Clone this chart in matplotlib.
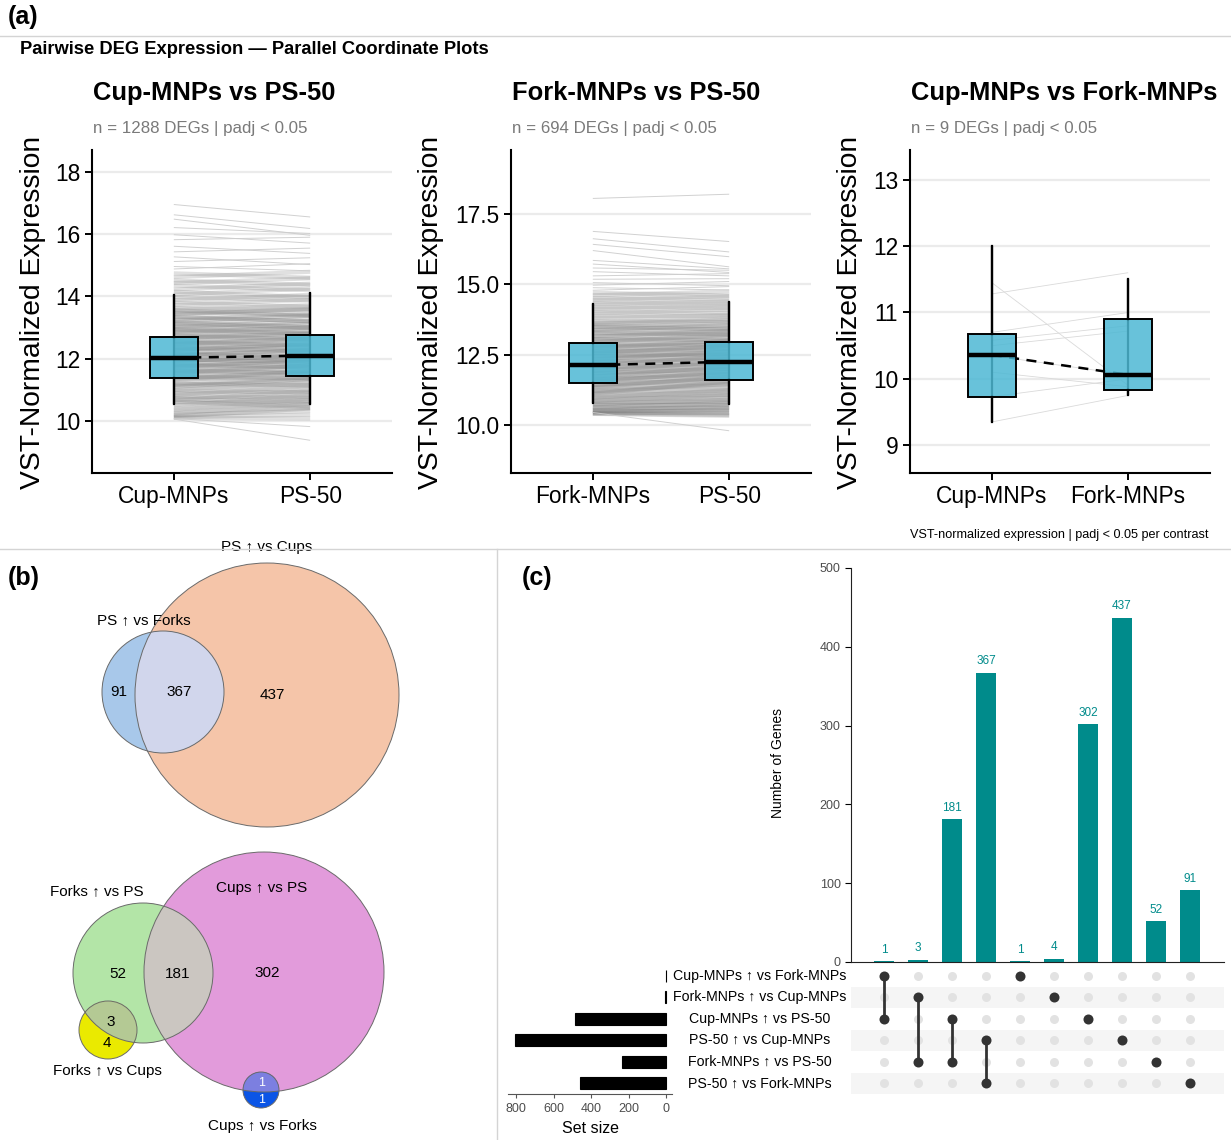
import numpy as np
import matplotlib.pyplot as plt
from matplotlib.patches import Circle
from matplotlib.lines import Line2D
from matplotlib.collections import LineCollection
from matplotlib.colors import to_rgba
from matplotlib.ticker import FormatStrFormatter
from matplotlib.transforms import blended_transform_factory

plt.rcParams['font.family'] = ['Liberation Sans', 'DejaVu Sans']

W, H = 1231, 1140

# ---------------- data : panel (a) ----------------
cup1 = [16.95, 16.62, 16.48, 16.21, 15.98, 15.82, 15.61, 15.43, 15.27, 15.12,
        14.96, 14.88, 14.74, 14.62, 14.51, 14.43, 14.35, 14.22, 14.15, 14.06,
        13.97, 13.88, 13.81, 13.72, 13.64, 13.57, 13.49, 13.41, 13.33, 13.26,
        13.18, 13.11, 13.04, 12.97, 12.9, 12.83, 12.77, 12.7, 12.63, 12.57,
        12.5, 12.44, 12.38, 12.31, 12.25, 12.19, 12.13, 12.07, 12.01, 11.95,
        11.89, 11.83, 11.77, 11.7, 11.64, 11.57, 11.5, 11.44, 11.37, 11.3,
        11.22, 11.15, 11.07, 10.99, 10.91, 10.83, 10.75, 10.66, 10.58, 10.5,
        10.43, 10.36, 10.3, 10.24, 10.19, 10.15, 10.12, 10.1, 10.08, 10.06,
        13.55, 13.45, 13.35, 13.22, 13.14, 13.02, 12.94, 12.86, 12.74, 12.66,
        12.54, 12.47, 12.35, 12.28, 12.16, 12.1, 11.98, 11.92, 11.8, 11.74,
        11.61, 11.54, 11.42, 11.34, 11.19, 11.1, 10.95, 10.8, 10.7, 10.62]
ps1 = [16.55, 16.18, 15.96, 16.02, 15.71, 15.9, 15.38, 15.55, 15.02, 15.24,
       14.82, 15.05, 14.6, 14.79, 14.37, 14.58, 14.2, 14.41, 13.98, 14.25,
       13.86, 14.05, 13.67, 13.9, 13.55, 13.72, 13.38, 13.6, 13.2, 13.44,
       13.03, 13.3, 12.9, 13.12, 12.78, 13.0, 12.64, 12.88, 12.5, 12.75,
       12.37, 12.62, 12.25, 12.5, 12.11, 12.39, 11.98, 12.27, 11.85, 12.12,
       11.74, 12.0, 11.62, 11.9, 11.5, 11.78, 11.39, 11.63, 11.27, 11.52,
       11.14, 11.4, 11.02, 11.25, 10.9, 11.12, 10.77, 10.98, 10.65, 10.84,
       10.54, 10.7, 10.42, 10.55, 10.32, 10.4, 10.2, 10.08, 9.82, 9.38,
       13.4, 13.58, 13.2, 13.38, 13.0, 13.18, 12.8, 13.0, 12.62, 12.82,
       12.42, 12.65, 12.24, 12.46, 12.06, 12.28, 11.9, 12.1, 11.72, 11.95,
       11.55, 11.78, 11.36, 11.6, 11.15, 11.35, 10.92, 10.75, 10.6, 10.45]

fork2 = [18.05, 16.88, 16.62, 16.42, 16.2, 15.85, 15.72, 15.58, 15.45, 15.3,
         15.18, 15.06, 14.97, 14.88, 14.79, 14.7, 14.61, 14.52, 14.44, 14.36,
         14.28, 14.2, 14.12, 14.04, 13.96, 13.88, 13.8, 13.72, 13.64, 13.56,
         13.48, 13.4, 13.32, 13.24, 13.16, 13.08, 13.0, 12.92, 12.85, 12.78,
         12.71, 12.64, 12.57, 12.5, 12.43, 12.36, 12.29, 12.22, 12.15, 12.08,
         12.01, 11.94, 11.87, 11.8, 11.73, 11.66, 11.59, 11.52, 11.45, 11.38,
         11.31, 11.24, 11.17, 11.1, 11.03, 10.96, 10.89, 10.82, 10.76, 10.7,
         10.64, 10.59, 10.54, 10.5, 10.47, 10.44, 10.42, 10.41, 10.4, 10.45,
         13.6, 13.5, 13.38, 13.28, 13.14, 13.05, 12.95, 12.82, 12.74, 12.62,
         12.55, 12.45, 12.33, 12.25, 12.12, 12.04, 11.92, 11.84, 11.72, 11.62,
         11.55, 11.42, 11.34, 11.2, 11.12, 10.98, 10.86, 10.74, 10.62, 10.52]
ps2 = [18.2, 16.52, 16.15, 15.98, 15.62, 15.55, 15.42, 15.5, 15.3, 15.38,
       15.2, 14.95, 15.1, 14.8, 14.92, 14.6, 14.75, 14.45, 14.58, 14.3,
       14.4, 14.15, 14.25, 13.98, 14.1, 13.85, 13.92, 13.66, 13.78, 13.5,
       13.62, 13.35, 13.45, 13.2, 13.3, 13.05, 13.15, 12.9, 13.0, 12.76,
       12.86, 12.62, 12.72, 12.48, 12.58, 12.35, 12.44, 12.2, 12.3, 12.06,
       12.16, 11.92, 12.02, 11.78, 11.88, 11.64, 11.74, 11.5, 11.6, 11.36,
       11.46, 11.22, 11.32, 11.08, 11.18, 10.95, 11.04, 10.82, 10.9, 10.7,
       10.78, 10.6, 10.66, 10.5, 10.55, 10.42, 10.45, 10.36, 10.33, 9.8,
       13.72, 13.4, 13.55, 13.22, 13.35, 13.02, 13.2, 12.85, 13.0, 12.7,
       12.82, 12.52, 12.62, 12.34, 12.45, 12.18, 12.26, 12.0, 12.08, 11.82,
       11.9, 11.66, 11.72, 11.46, 11.55, 11.24, 11.08, 10.9, 10.75, 10.6]

cup3 = [11.45, 11.28, 10.7, 10.58, 10.5, 10.35, 10.1, 9.73, 9.35]
fork3 = [9.9, 11.6, 11.0, 10.8, 10.72, 10.06, 9.88, 10.0, 9.75]

# box stats: (q1, median, q3, whisker low, whisker high)
box1 = [(11.39, 12.03, 12.71, 10.55, 14.06), (11.45, 12.10, 12.77, 10.55, 14.10)]
box2 = [(11.49, 12.13, 12.93, 10.80, 14.29), (11.60, 12.25, 12.96, 10.74, 14.36)]
box3 = [(9.73, 10.36, 10.68, 9.35, 12.00), (9.83, 10.06, 10.90, 9.75, 11.50)]

titles = ['Cup-MNPs vs PS-50', 'Fork-MNPs vs PS-50', 'Cup-MNPs vs Fork-MNPs']
subtitles = ['n = 1288 DEGs | padj < 0.05', 'n = 694 DEGs | padj < 0.05',
             'n = 9 DEGs | padj < 0.05']
groups = [['Cup-MNPs', 'PS-50'], ['Fork-MNPs', 'PS-50'], ['Cup-MNPs', 'Fork-MNPs']]

# ---------------- data : panel (b) ----------------
venn_top_counts = [91, 367, 437]
venn_top_names = ['PS \u2191 vs Forks', 'PS \u2191 vs Cups']
venn_bot_counts = [52, 181, 302, 3, 4, 1, 1]
venn_bot_names = ['Forks \u2191 vs PS', 'Cups \u2191 vs PS', 'Forks \u2191 vs Cups',
                  'Cups \u2191 vs Forks']

# ---------------- data : panel (c) ----------------
set_names = ['Cup-MNPs \u2191 vs Fork-MNPs', 'Fork-MNPs \u2191 vs Cup-MNPs',
             'Cup-MNPs \u2191 vs PS-50', 'PS-50 \u2191 vs Cup-MNPs',
             'Fork-MNPs \u2191 vs PS-50', 'PS-50 \u2191 vs Fork-MNPs']
inter_counts = [1, 3, 181, 367, 1, 4, 302, 437, 52, 91]
inter_members = [[0, 2], [1, 4], [2, 4], [3, 5], [0], [1], [2], [3], [4], [5]]

# ---------------- figure ----------------
fig = plt.figure(figsize=(W / 100, H / 100), dpi=100)


def rect(l, t, r, b):
    return [l / W, 1 - b / H, (r - l) / W, (b - t) / H]


def ftext(x, y, s, **kw):
    fig.text(x / W, 1 - y / H, s, **kw)


def sep(x0, y0, x1, y1):
    fig.add_artist(Line2D([x0 / W, x1 / W], [1 - y0 / H, 1 - y1 / H],
                          transform=fig.transFigure, color='#d4d4d4', lw=1))


sep(0, 36, W, 36)
sep(0, 549, W, 549)
sep(497, 549, 497, H)

ftext(8, 17, '(a)', fontsize=18, fontweight='bold', va='center')
ftext(20, 50, 'Pairwise DEG Expression \u2014 Parallel Coordinate Plots',
      fontsize=13.2, fontweight='bold', va='center')
ftext(8, 578, '(b)', fontsize=18, fontweight='bold', va='center')
ftext(522, 578, '(c)', fontsize=18, fontweight='bold', va='center')

# ---- panel (a) ----
lefts = [92, 511, 910]
ylab_x = [33, 431, 850]
ylims = [(8.33, 18.7), (8.3, 19.77), (8.58, 13.45)]
yticks = [[10, 12, 14, 16, 18], [10.0, 12.5, 15.0, 17.5], [9, 10, 11, 12, 13]]
starts = [cup1, fork2, cup3]
ends = [ps1, ps2, fork3]
boxes = [box1, box2, box3]
boxcol = to_rgba('#4DB8D4', 0.85)

for k in range(3):
    l = lefts[k]
    ax = fig.add_axes(rect(l, 150, l + 300, 473))
    pairs = list(zip(starts[k], ends[k]))
    if k < 2:
        core = [[(1, s), (2, e)] for s, e in pairs if max(s, e) <= 14.8 and min(s, e) >= 10.0]
        tail = [[(1, s), (2, e)] for s, e in pairs if max(s, e) > 14.8 or min(s, e) < 10.0]
        ax.add_collection(LineCollection(core, colors='#666666', linewidths=3.0,
                                         alpha=0.2, zorder=1))
        ax.add_collection(LineCollection(tail, colors='#cccccc', linewidths=0.7,
                                         alpha=0.9, zorder=1))
    else:
        segs = [[(1, s), (2, e)] for s, e in pairs]
        ax.add_collection(LineCollection(segs, colors='#dadada', linewidths=0.6, zorder=1))

    meds = [b[1] for b in boxes[k]]
    ax.plot([1, 2], meds, color='black', lw=1.8, ls=(0, (4, 3)), zorder=2)
    for p, b in zip([1, 2], boxes[k]):
        ax.vlines(p, b[3], b[4], color='black', lw=1.6, zorder=2.5)
    stats = [dict(q1=b[0], med=b[1], q3=b[2], whislo=b[3], whishi=b[4], fliers=[])
             for b in boxes[k]]
    ax.bxp(stats, positions=[1, 2], widths=0.35, patch_artist=True, showcaps=False,
           showfliers=False, zorder=3,
           boxprops=dict(facecolor=boxcol, edgecolor='black', linewidth=1.4),
           medianprops=dict(color='black', linewidth=3.2),
           whiskerprops=dict(color='black', linewidth=1.6))

    ax.set_xlim(0.4, 2.6)
    ax.set_ylim(*ylims[k])
    ax.set_yticks(yticks[k])
    if k == 1:
        ax.yaxis.set_major_formatter(FormatStrFormatter('%.1f'))
    ax.set_xticks([1, 2])
    ax.set_xticklabels(groups[k])
    ax.grid(axis='y', color='#ebebeb', lw=1.6)
    ax.set_axisbelow(True)
    for s in ['top', 'right']:
        ax.spines[s].set_visible(False)
    for s in ['left', 'bottom']:
        ax.spines[s].set_linewidth(1.5)
    ax.tick_params(labelsize=16.4, length=5, width=1.4, color='black')

    ftext(l + 1, 93, titles[k], fontsize=18.4, fontweight='bold', va='center')
    ftext(l + 1, 128, subtitles[k], fontsize=12.2, color='#7a7a7a', va='center')
    ftext(ylab_x[k], 312, 'VST-Normalized Expression', rotation=90, fontsize=20.3,
          ha='center', va='center')

ftext(1209, 535, 'VST-normalized expression | padj < 0.05 per contrast',
      fontsize=9.1, ha='right', va='center')

# ---- panel (b) : Venn diagrams ----
axv = fig.add_axes(rect(0, 549, 497, H))
axv.set_xlim(0, 497)
axv.set_ylim(H, 549)
axv.axis('off')


def circ(c, r, col, clip=None):
    p = Circle(c, r, facecolor=col, edgecolor='none')
    axv.add_patch(p)
    if clip is not None:
        p.set_clip_path(clip)
    return p


def edge(c, r):
    axv.add_patch(Circle(c, r, facecolor='none', edgecolor='#6a6a6a', lw=0.7))


# layout of circles (pixel space of panel)
c_orange, r_orange = (267, 695), 132
c_lblue, r_lblue = (163, 692), 61
c_pink, r_pink = (264, 972), 120
c_green, r_green = (143, 973), 70
c_yell, r_yell = (108, 1030), 29
c_blue, r_blue = (261, 1090), 18

po = circ(c_orange, r_orange, '#F5C5A9')
circ(c_lblue, r_lblue, '#A8C8EA')
circ(c_lblue, r_lblue, '#D1D6EC', clip=po)
edge(c_orange, r_orange)
edge(c_lblue, r_lblue)

pp = circ(c_pink, r_pink, '#E29BDB')
pg = circ(c_green, r_green, '#B3E5A7')
circ(c_green, r_green, '#CBC6C1', clip=pp)
circ(c_yell, r_yell, '#EAEA00')
circ(c_yell, r_yell, '#B4C994', clip=pg)
circ(c_blue, r_blue, '#0B55E6')
circ(c_blue, r_blue, '#7C7FE0', clip=pp)
for c, r in [(c_pink, r_pink), (c_green, r_green), (c_yell, r_yell), (c_blue, r_blue)]:
    edge(c, r)

vfs = 11
top_pos = [(119, 692), (179, 692), (272, 695)]
for (x, y), n in zip(top_pos, venn_top_counts):
    axv.text(x, y, str(n), fontsize=vfs, ha='center', va='center')
axv.text(144, 620, venn_top_names[0], fontsize=vfs, ha='center', va='center')
axv.text(267, 547, venn_top_names[1], fontsize=vfs, ha='center', va='center')

bot_pos = [(118, 974), (178, 974), (267, 973), (111, 1022), (107, 1043),
           (262, 1083), (262, 1100)]
bot_col = ['black'] * 5 + ['white', 'white']
for (x, y), n, col in zip(bot_pos, venn_bot_counts, bot_col):
    axv.text(x, y, str(n), fontsize=vfs if col == 'black' else 9, color=col,
             ha='center', va='center')
for (x, y), s in zip([(97, 891), (262, 888), (107, 1071), (262, 1126)], venn_bot_names):
    axv.text(x, y, s, fontsize=vfs, ha='center', va='center')

# ---- panel (c) : UpSet ----
teal = '#008B8B'
xs = np.arange(len(inter_counts))
xl = (-0.97, 10.0)

axb = fig.add_axes(rect(851, 568, 1224, 962))
axb.bar(xs, inter_counts, width=0.6, color=teal)
for x, c in zip(xs, inter_counts):
    axb.text(x, c + 7, str(c), ha='center', va='bottom', color=teal, fontsize=8.5)
axb.set_xlim(*xl)
axb.set_ylim(0, 500)
axb.set_xticks([])
axb.set_yticks([0, 100, 200, 300, 400, 500])
axb.tick_params(axis='y', labelsize=9, labelcolor='#4d4d4d', length=4, width=0.8)
for s in ['top', 'right']:
    axb.spines[s].set_visible(False)
axb.spines['left'].set_color('#222222')
axb.spines['bottom'].set_color('#222222')
ftext(778, 763, 'Number of Genes', rotation=90, fontsize=10, ha='center', va='center')

axm = fig.add_axes(rect(851, 965, 1224, 1094))
axm.set_xlim(*xl)
axm.set_ylim(len(set_names) - 0.5, -0.5)
axm.axis('off')
for r in range(1, len(set_names), 2):
    axm.axhspan(r - 0.5, r + 0.5, color='#f5f5f5', zorder=0, lw=0)
gx, gy = np.meshgrid(xs, np.arange(len(set_names)))
axm.scatter(gx.ravel(), gy.ravel(), s=42, color='#e2e2e2', zorder=1, lw=0)
for x, mem in zip(xs, inter_members):
    if len(mem) > 1:
        axm.plot([x, x], [min(mem), max(mem)], color='#333333', lw=2, zorder=2)
    axm.scatter([x] * len(mem), mem, s=52, color='#333333', zorder=3, lw=0)

trans = blended_transform_factory(fig.transFigure, axm.transData)
for r, name in enumerate(set_names):
    axm.text(760 / W, r, name, transform=trans, ha='center', va='center', fontsize=10.2)

set_sizes = [sum(c for c, m in zip(inter_counts, inter_members) if r in m)
             for r in range(len(set_names))]
axs = fig.add_axes(rect(508, 965, 672, 1094))
axs.barh(np.arange(len(set_names)), set_sizes, height=0.55, color='black',
         edgecolor='black', lw=0.8)
axs.set_xlim(843, -32)
axs.set_ylim(len(set_names) - 0.5, -0.5)
axs.set_yticks([])
axs.set_xticks([800, 600, 400, 200, 0])
axs.tick_params(axis='x', labelsize=9, labelcolor='#4d4d4d', length=3, color='#555555')
for s in ['top', 'right', 'left']:
    axs.spines[s].set_visible(False)
axs.spines['bottom'].set_color('#555555')
axs.set_xlabel('Set size', fontsize=11.5, labelpad=4)
axs.patch.set_alpha(0)

fig.savefig('out.png', dpi=100)
